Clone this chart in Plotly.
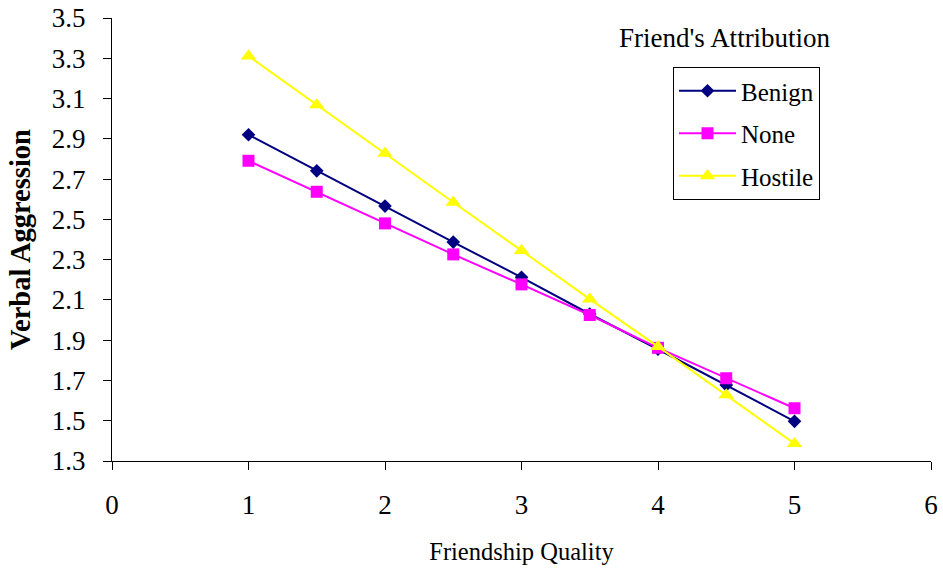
import plotly.graph_objects as go

x_vals = [1, 1.5, 2, 2.5, 3, 3.5, 4, 4.5, 5]
benign = [2.920, 2.741, 2.566, 2.387, 2.212, 2.030, 1.855, 1.677, 1.497]
none_ = [2.791, 2.637, 2.480, 2.326, 2.177, 2.025, 1.862, 1.711, 1.562]
hostile = [3.311, 3.068, 2.828, 2.585, 2.345, 2.104, 1.868, 1.628, 1.386]

series_names = ["Benign", "None", "Hostile"]
series_colors = ["#000080", "#FF00FF", "#FFFF00"]
series_symbols = ["diamond", "square", "triangle-up"]
series_sizes = [10.5, 12, 13.5]
series_values = [benign, none_, hostile]

FONT = "Liberation Serif"

fig = go.Figure()
for name, col, sym, sz, vals in zip(series_names, series_colors, series_symbols, series_sizes, series_values):
    fig.add_trace(go.Scatter(
        x=x_vals, y=vals, name=name, legendgroup=name,
        mode="lines+markers",
        line=dict(color=col, width=2),
        marker=dict(color=col, symbol=sym, size=sz, line=dict(width=0)),
    ))

fig.update_layout(
    width=943, height=577,
    margin=dict(l=112, r=12, t=18, b=116, autoexpand=False),
    paper_bgcolor="white", plot_bgcolor="white",
    font=dict(family=FONT, size=27, color="black"),
    showlegend=True,
    legend=dict(
        x=(673-112)/(931-112), y=1-(67-18)/(461-18), xanchor="left", yanchor="top",
        bordercolor="black", borderwidth=1,
        font=dict(family=FONT, size=25, color="black"),
        tracegroupgap=7,
        itemwidth=57,
        bgcolor="white",
    ),
    xaxis=dict(
        range=[0, 6], tick0=0, dtick=1,
        showgrid=False, zeroline=False,
        showline=True, linecolor="black", linewidth=1,
        ticks="outside", ticklen=8, tickcolor="black",
        tickfont=dict(family=FONT, size=27),
        ticklabelstandoff=12,
        title=dict(text="Friendship Quality", font=dict(family=FONT, size=24.5), standoff=23),
    ),
    yaxis=dict(
        range=[1.3, 3.5], tick0=1.3, dtick=0.2, tickformat=".1f",
        showgrid=False, zeroline=False,
        showline=True, linecolor="black", linewidth=1,
        ticks="outside", ticklen=8, tickcolor="black",
        tickfont=dict(family=FONT, size=27),
        ticklabelstandoff=12,
        title=dict(text="<b>Verbal Aggression</b>", font=dict(family=FONT, size=28.5), standoff=12),
    ),
    annotations=[dict(
        text="Friend's Attribution", xref="paper", yref="paper",
        x=(725-112)/(931-112), y=1-(38-18)/(461-18), xanchor="center", yanchor="middle",
        showarrow=False, font=dict(family=FONT, size=27, color="black"),
    )],
)

fig.write_html("out.html")
